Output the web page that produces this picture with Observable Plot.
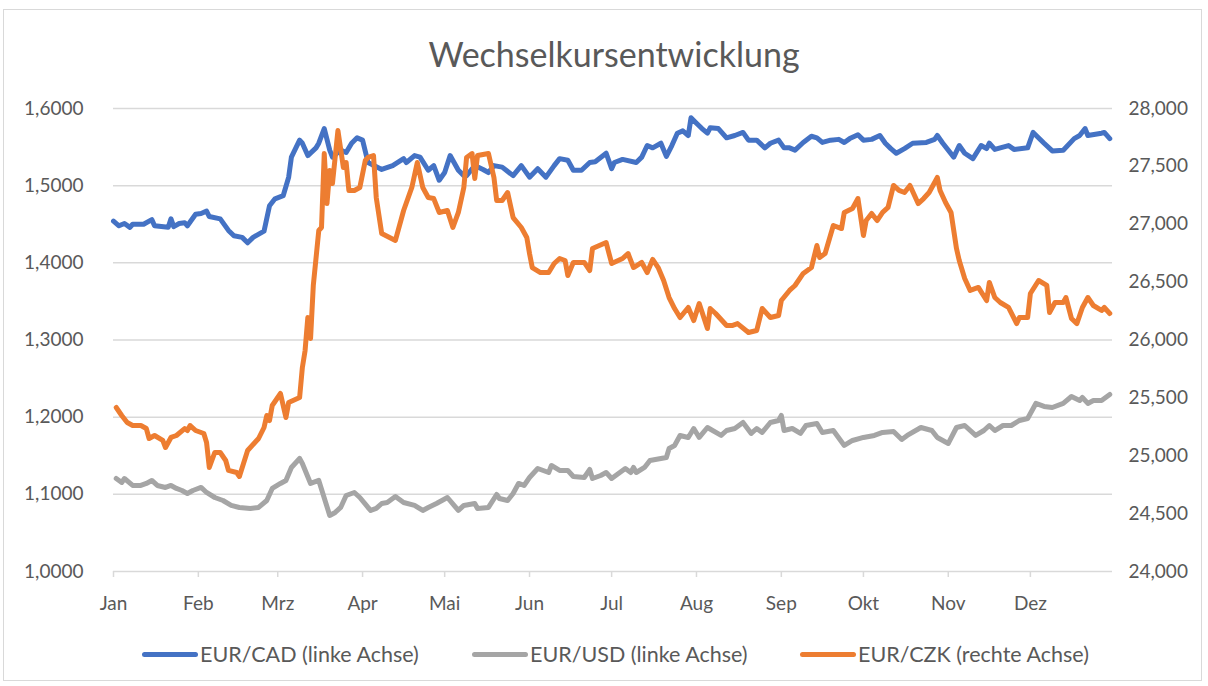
<!DOCTYPE html>
<html>
<head>
<meta charset="utf-8">
<script src="https://cdn.jsdelivr.net/npm/d3@7"></script>
<script src="https://cdn.jsdelivr.net/npm/@observablehq/plot@0.6"></script>
<style>
  body { margin: 0; background: #fff; font-family: Lato, "Open Sans", sans-serif; }
  #frame { position: absolute; left: 3px; top: 9px; width: 1199px; height: 672px; border: 1px solid #d9d9d9; box-sizing: border-box; }
  #chart { position: absolute; left: 0; top: 0; }
  #title { position: absolute; top: 33px; left: 0; width: 1228px; text-align: center; font-size: 34px; color: #595959; }
  .leg { position: absolute; top: 641px; display: flex; align-items: center; font-size: 21.5px; color: #595959; white-space: nowrap; }
  .sw { width: 56px; height: 5px; border-radius: 3px; margin-right: 2px; }
</style>
</head>
<body>
<div id="frame"></div>
<div id="chart"></div>
<div id="title">Wechselkursentwicklung</div>
<div id="legend"></div>
<script>
// ---- Data (day of year 2020, value) ----
const monthLabels = ["Jan","Feb","Mrz","Apr","Mai","Jun","Jul","Aug","Sep","Okt","Nov","Dez"];
const leftTicks = [1.0, 1.1, 1.2, 1.3, 1.4, 1.5, 1.6];
const rightTicks = [24, 24.5, 25, 25.5, 26, 26.5, 27, 27.5, 28];
const seriesNames = ["EUR/CAD (linke Achse)", "EUR/USD (linke Achse)", "EUR/CZK (rechte Achse)"];
const seriesColors = ["#4472C4", "#A5A5A5", "#ED7D31"];

const eurCad = [
  [0,1.454],[2,1.448],[4,1.451],[6,1.446],[7,1.450],[11,1.450],[14,1.456],[15,1.448],[20,1.446],[21,1.457],
  [22,1.447],[24,1.451],[26,1.452],[27,1.448],[30,1.463],[32,1.464],[34,1.467],[35,1.460],[39,1.457],[42,1.442],
  [44,1.435],[47,1.433],[49,1.426],[51,1.433],[55,1.441],[57,1.474],[59,1.483],[62,1.487],[64,1.511],[65,1.537],
  [68,1.559],[69,1.555],[71,1.539],[74,1.549],[75,1.555],[77,1.574],[79,1.546],[80,1.537],[83,1.546],[85,1.543],
  [87,1.555],[89,1.562],[91,1.559],[93,1.530],[98,1.521],[102,1.526],[106,1.535],[107,1.530],[110,1.539],[112,1.537],
  [115,1.520],[117,1.526],[119,1.507],[121,1.517],[123,1.539],[126,1.520],[128,1.513],[129,1.513],[132,1.526],[135,1.521],
  [137,1.517],[139,1.526],[142,1.524],[146,1.513],[149,1.526],[152,1.511],[155,1.522],[158,1.511],[161,1.526],[163,1.535],
  [166,1.533],[168,1.520],[171,1.520],[174,1.530],[176,1.531],[180,1.542],[182,1.522],[183,1.530],[186,1.534],[191,1.530],
  [193,1.537],[195,1.552],[197,1.549],[200,1.555],[202,1.538],[204,1.552],[206,1.568],[208,1.571],[210,1.565],[211,1.588],
  [213,1.581],[215,1.574],[217,1.568],[218,1.575],[221,1.574],[224,1.562],[227,1.565],[230,1.569],[232,1.559],[235,1.559],
  [238,1.549],[240,1.555],[243,1.559],[245,1.549],[247,1.549],[249,1.546],[252,1.556],[255,1.564],[257,1.562],[259,1.556],
  [262,1.559],[265,1.560],[267,1.556],[269,1.561],[272,1.566],[274,1.559],[277,1.560],[280,1.565],[282,1.555],[284,1.548],
  [286,1.542],[289,1.548],[292,1.555],[297,1.556],[300,1.560],[301,1.565],[303,1.555],[307,1.537],[309,1.552],[311,1.542],
  [314,1.535],[317,1.552],[319,1.548],[320,1.555],[322,1.547],[327,1.552],[329,1.547],[334,1.549],[336,1.569],[340,1.555],
  [343,1.545],[347,1.546],[351,1.561],[353,1.565],[355,1.574],[356,1.565],[361,1.568],[362,1.569],[364,1.561]
];

const eurUsd = [
  [1,1.1205],[3,1.1154],[4,1.1205],[7,1.1115],[10,1.1115],[12,1.1141],[14,1.1180],[16,1.1115],[19,1.1089],[21,1.1115],
  [23,1.1076],[25,1.1050],[27,1.1011],[29,1.1050],[32,1.1089],[34,1.1024],[37,1.0959],[40,1.0920],[43,1.0856],[46,1.0830],
  [50,1.0817],[53,1.0830],[56,1.0920],[58,1.1076],[61,1.1141],[63,1.1180],[65,1.1348],[68,1.1465],[69,1.1400],[72,1.1141],
  [75,1.1180],[79,1.0726],[81,1.0765],[83,1.0830],[85,1.0985],[88,1.1024],[90,1.0959],[93,1.0830],[94,1.0791],[96,1.0817],
  [98,1.0881],[100,1.0894],[103,1.0972],[106,1.0894],[110,1.0856],[113,1.0791],[115,1.0830],[118,1.0881],[122,1.0959],[126,1.0791],
  [128,1.0856],[132,1.0881],[133,1.0817],[137,1.0830],[140,1.0998],[141,1.0946],[144,1.0920],[146,1.1011],[148,1.1141],[150,1.1115],
  [152,1.1218],[155,1.1335],[159,1.1283],[160,1.1374],[163,1.1309],[166,1.1309],[168,1.1231],[172,1.1218],[174,1.1322],[175,1.1205],
  [178,1.1244],[180,1.1283],[182,1.1205],[185,1.1283],[187,1.1335],[189,1.1283],[190,1.1348],[191,1.1283],[194,1.1348],[196,1.1439],
  [200,1.1465],[202,1.1478],[203,1.1594],[205,1.1633],[207,1.1763],[210,1.1737],[212,1.1853],[214,1.1737],[217,1.1866],[222,1.1763],
  [224,1.1827],[227,1.1853],[230,1.1931],[233,1.1789],[235,1.1853],[237,1.1802],[240,1.1931],[243,1.1957],[244,1.2022],[245,1.1827],
  [248,1.1853],[251,1.1789],[253,1.1892],[257,1.1918],[259,1.1802],[263,1.1827],[267,1.1633],[270,1.1698],[274,1.1737],[278,1.1763],
  [281,1.1802],[285,1.1815],[288,1.1711],[290,1.1763],[295,1.1866],[299,1.1827],[301,1.1737],[305,1.1659],[308,1.1866],[311,1.1892],
  [315,1.1763],[318,1.1827],[320,1.1892],[322,1.1827],[325,1.1892],[328,1.1892],[331,1.1957],[334,1.1983],[337,1.2178],[340,1.2139],
  [343,1.2125],[347,1.2178],[350,1.2268],[353,1.2216],[354,1.2255],[356,1.2178],[358,1.2216],[361,1.2216],[364,1.2294]
];

const eurCzk = [
  [1,25.417],[3,25.348],[5,25.287],[7,25.261],[10,25.261],[12,25.235],[13,25.149],[15,25.175],[18,25.132],[19,25.071],
  [21,25.158],[23,25.175],[26,25.235],[27,25.218],[28,25.261],[30,25.218],[33,25.192],[34,25.115],[35,24.899],[37,25.028],
  [39,25.028],[41,24.959],[42,24.873],[45,24.855],[46,24.821],[49,25.045],[53,25.149],[55,25.244],[56,25.348],[57,25.304],
  [58,25.434],[61,25.538],[63,25.330],[64,25.460],[68,25.503],[69,25.762],[70,25.909],[71,26.194],[72,26.013],[73,26.470],
  [75,26.946],[76,26.972],[77,27.611],[78,27.179],[79,27.464],[80,27.352],[82,27.810],[84,27.490],[85,27.533],[86,27.292],
  [88,27.292],[90,27.318],[92,27.551],[93,27.577],[95,27.594],[96,27.231],[98,26.920],[103,26.860],[106,27.119],[109,27.318],
  [111,27.533],[113,27.318],[115,27.231],[117,27.222],[119,27.102],[122,27.119],[124,26.972],[126,27.102],[128,27.318],[129,27.577],
  [131,27.611],[132,27.395],[133,27.594],[137,27.611],[139,27.404],[140,27.205],[142,27.205],[144,27.274],[146,27.058],[149,26.972],
  [151,26.886],[152,26.747],[153,26.626],[156,26.583],[159,26.583],[161,26.661],[163,26.704],[165,26.687],[166,26.557],[168,26.670],
  [172,26.670],[174,26.600],[175,26.790],[180,26.842],[182,26.661],[186,26.704],[188,26.747],[190,26.626],[193,26.670],[195,26.583],
  [197,26.696],[199,26.626],[201,26.514],[203,26.367],[205,26.272],[207,26.194],[210,26.281],[212,26.168],[214,26.315],[217,26.099],
  [218,26.272],[220,26.229],[224,26.125],[226,26.125],[228,26.142],[232,26.065],[235,26.082],[237,26.272],[240,26.194],[243,26.212],
  [244,26.341],[247,26.428],[249,26.471],[252,26.575],[255,26.626],[257,26.816],[258,26.713],[260,26.747],[263,26.989],[266,26.963],
  [267,27.102],[270,27.136],[272,27.222],[274,26.903],[275,27.032],[277,27.093],[279,27.032],[281,27.102],[283,27.145],[285,27.335],
  [287,27.292],[289,27.274],[291,27.335],[294,27.179],[296,27.222],[298,27.274],[301,27.404],[302,27.292],[304,27.188],[306,27.102],
  [308,26.790],[309,26.687],[311,26.531],[313,26.428],[316,26.454],[319,26.341],[320,26.497],[322,26.367],[324,26.324],[327,26.281],
  [330,26.142],[331,26.194],[334,26.194],[335,26.402],[338,26.514],[341,26.471],[342,26.238],[344,26.324],[347,26.324],[348,26.367],
  [350,26.186],[352,26.142],[354,26.281],[356,26.367],[358,26.298],[361,26.255],[362,26.281],[364,26.229]
];

// ---- helpers ----
const start = new Date(Date.UTC(2020, 0, 1));
const toDate = d => d3.utcDay.offset(start, d);
// secondary axis mapping: [24, 28] -> [1.0, 1.6]
const czkToLeft = c => 1.0 + (c - 24) * 0.15;
const leftToCzk = v => 24 + (v - 1.0) / 0.15;
const comma = s => s.replace(".", ",");
const monthStarts = d3.range(12).map(m => new Date(Date.UTC(2020, m, 1)));

const chart = Plot.plot({
  width: 1208,
  height: 640,
  marginTop: 108,
  marginBottom: 69,
  marginLeft: 113,
  marginRight: 96,
  style: { fontFamily: "Lato, 'Open Sans', sans-serif", fontSize: "19px", color: "#595959", background: "transparent" },
  x: { type: "utc", domain: [start, new Date(Date.UTC(2020, 11, 31))], label: null },
  y: { domain: [1.0, 1.6], label: null },
  marks: [
    Plot.ruleY(leftTicks, { stroke: "#d9d9d9", strokeWidth: 1.5 }),
    Plot.axisY(leftTicks, { anchor: "left", tickSize: 0, tickPadding: 30, tickFormat: d => comma(d3.format(".4f")(d)), label: null }),
    Plot.axisY(rightTicks.map(czkToLeft), { anchor: "right", tickSize: 0, tickPadding: 16, tickFormat: v => comma(d3.format(".3f")(Math.round(leftToCzk(v) * 1000) / 1000)), label: null }),
    Plot.axisX(monthStarts, { tickSize: 6, tickPadding: 19, stroke: "#d9d9d9", strokeWidth: 1.5, tickFormat: d => monthLabels[d.getUTCMonth()], label: null }),
    Plot.line(eurUsd, { x: d => toDate(d[0]), y: d => d[1], stroke: seriesColors[1], strokeWidth: 5 }),
    Plot.line(eurCad, { x: d => toDate(d[0]), y: d => d[1], stroke: seriesColors[0], strokeWidth: 5 }),
    Plot.line(eurCzk, { x: d => toDate(d[0]), y: d => czkToLeft(d[1]), stroke: seriesColors[2], strokeWidth: 5 })
  ]
});
document.getElementById("chart").appendChild(chart);

// legend
const legendLefts = [142, 472, 800];
const legend = document.getElementById("legend");
seriesNames.forEach((name, i) => {
  const item = document.createElement("div");
  item.className = "leg";
  item.style.left = legendLefts[i] + "px";
  const sw = document.createElement("div");
  sw.className = "sw";
  sw.style.background = seriesColors[i];
  const tx = document.createElement("span");
  tx.textContent = name;
  item.appendChild(sw);
  item.appendChild(tx);
  legend.appendChild(item);
});
</script>
</body>
</html>
